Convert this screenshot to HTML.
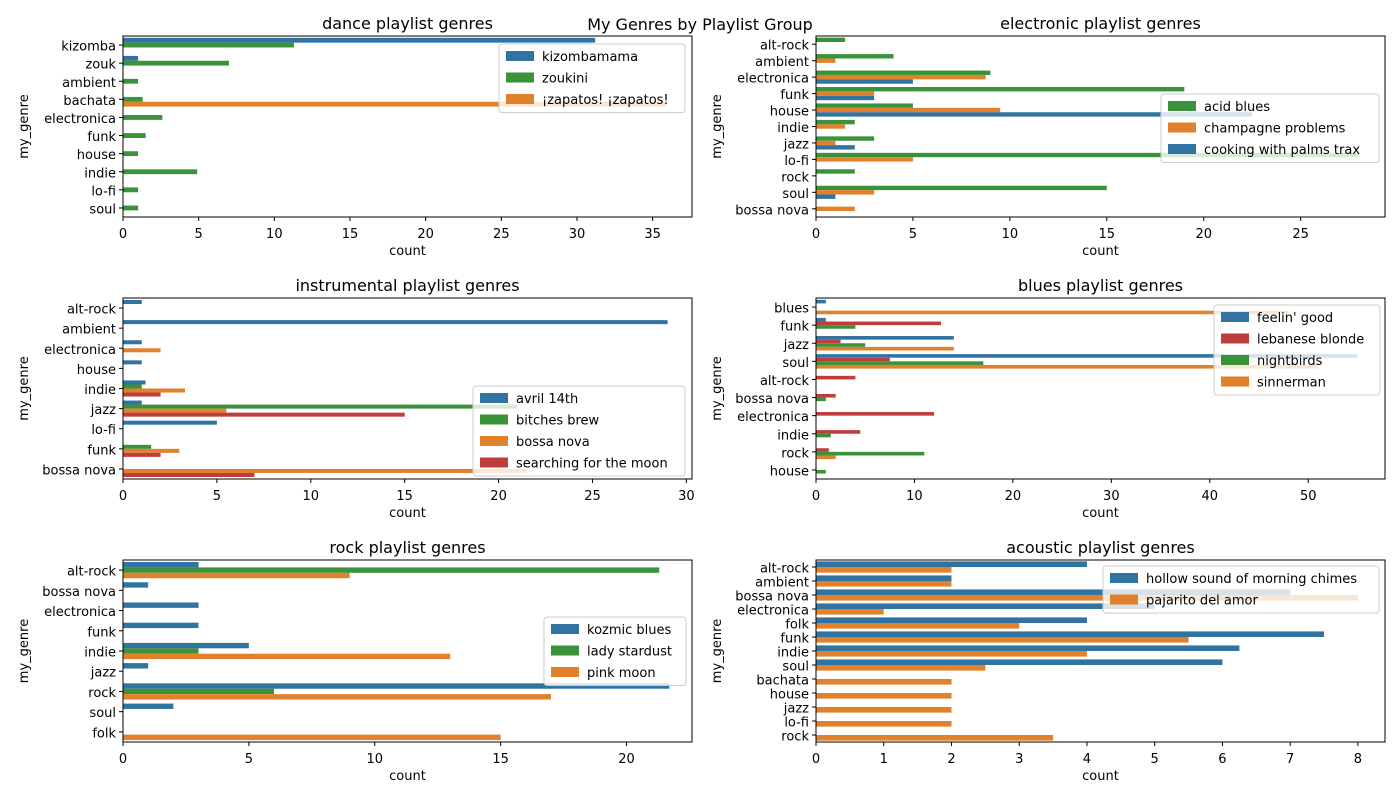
<!DOCTYPE html>
<html><head><meta charset="utf-8"><style>
body{margin:0;background:#fff}
svg{display:block;font-family:"DejaVu Sans","Liberation Sans",sans-serif}
</style></head><body>
<svg id="c" width="1400" height="800" viewBox="0 0 1400 800">
<text x="700" y="30" text-anchor="middle" font-size="16">My Genres by Playlist Group</text>
</svg>
<script>
const C={blue:'#3274a1',orange:'#e1812c',green:'#3a923a',red:'#c03d3e'};
// dance
const danceCats=['kizomba','zouk','ambient','bachata','electronica','funk','house','indie','lo-fi','soul'];
const danceHues=['kizombamama','zoukini','¡zapatos! ¡zapatos!'];
const danceKizombamama=[31.2,1,0,0,0,0,0,0,0,0];
const danceZoukini=[11.3,7,1,1.3,2.6,1.5,1,4.9,1,1];
const danceZapatos=[0,0,0,35.9,0,0,0,0,0,0];
const danceTicks=[0,5,10,15,20,25,30,35];
// electronic
const elecCats=['alt-rock','ambient','electronica','funk','house','indie','jazz','lo-fi','rock','soul','bossa nova'];
const elecHues=['acid blues','champagne problems','cooking with palms trax'];
const elecAcid=[1.5,4,9,19,5,2,3,28,2,15,0];
const elecChamp=[0,1,8.75,3,9.5,1.5,1,5,0,3,2];
const elecCooking=[0,0,5,3,22.5,0,2,0,0,1,0];
const elecTicks=[0,5,10,15,20,25];
// instrumental
const instCats=['alt-rock','ambient','electronica','house','indie','jazz','lo-fi','funk','bossa nova'];
const instHues=['avril 14th','bitches brew','bossa nova','searching for the moon'];
const instAvril=[1,29,1,1,1.2,1,5,0,0];
const instBitches=[0,0,0,0,1,21,0,1.5,0];
const instBossa=[0,0,2,0,3.3,5.5,0,3,21.5];
const instSearching=[0,0,0,0,2,15,0,2,7];
const instTicks=[0,5,10,15,20,25,30];
// blues
const bluesCats=['blues','funk','jazz','soul','alt-rock','bossa nova','electronica','indie','rock','house'];
const bluesHues=["feelin' good",'lebanese blonde','nightbirds','sinnerman'];
const bluesFeelin=[1,1,14,55,0,0,0,0,0,0];
const bluesLebanese=[0,12.7,2.5,7.5,4,2,12,4.5,1.3,0];
const bluesNightbirds=[0,4,5,17,0,1,0,1.5,11,1];
const bluesSinnerman=[48,0,14,51,0,0,0,0,2,0];
const bluesTicks=[0,10,20,30,40,50];
// rock
const rockCats=['alt-rock','bossa nova','electronica','funk','indie','jazz','rock','soul','folk'];
const rockHues=['kozmic blues','lady stardust','pink moon'];
const rockKozmic=[3,1,3,3,5,1,21.7,2,0];
const rockLady=[21.3,0,0,0,3,0,6,0,0];
const rockPink=[9,0,0,0,13,0,17,0,15];
const rockTicks=[0,5,10,15,20];
// acoustic
const acCats=['alt-rock','ambient','bossa nova','electronica','folk','funk','indie','soul','bachata','house','jazz','lo-fi','rock'];
const acHues=['hollow sound of morning chimes','pajarito del amor'];
const acHollow=[4,2,7,5,4,7.5,6.25,6,0,0,0,0,0];
const acPajarito=[2,2,8,1,3,5.5,4,2.5,2,2,2,2,3.5];
const acTicks=[0,1,2,3,4,5,6,7,8];

const svg=document.getElementById('c');
const NS='http://www.w3.org/2000/svg';
function mk(tag,attrs,parent){const e=document.createElementNS(NS,tag);for(const k in attrs)e.setAttribute(k,attrs[k]);(parent||svg).appendChild(e);return e;}

function panel(o){
  const {key,title,L,R,T,B,xmax,cats,hues,series,colors,ticks,leg}=o;
  const g=mk('g',{});
  
  
  const xs=v=>L+(R-L)*v/xmax;
  const band=(B-T)/cats.length;
  const bh=band*0.8/hues.length;
  series.forEach((vals,h)=>{
    vals.forEach((v,i)=>{
      if(!v)return;
      const y=T+band*i+band*0.1+bh*h;
      const r=mk('rect',{x:xs(0),y:y,width:xs(v)-xs(0),height:bh,fill:colors[h]},g);
      
      
    });
  });
  const ax=mk('rect',{x:L,y:T,width:R-L,height:B-T,fill:'none',stroke:'#000','stroke-width':1},g);
  
  
  ticks.forEach(t=>{
    const x=xs(t);
    mk('line',{x1:x,x2:x,y1:B,y2:B+4,stroke:'#000'},g);
    const tx=mk('text',{x:x,y:B+21,'text-anchor':'middle','font-size':13},g);
    tx.textContent=t;
    
    
  });
  cats.forEach((c,i)=>{
    const y=T+band*(i+0.5);
    mk('line',{x1:L-4,x2:L,y1:y,y2:y,stroke:'#000'},g);
    const tx=mk('text',{x:L-7,y:y+5.5,'text-anchor':'end','font-size':13},g);
    tx.textContent=c;
    
    
  });
  const xl=mk('text',{x:(L+R)/2,y:B+38,'text-anchor':'middle','font-size':13},g);
  xl.textContent='count';
  
  
  const yx=L-95,yy=(T+B)/2;
  const yl=mk('text',{x:yx,y:yy,'text-anchor':'middle','font-size':13,transform:`rotate(-90 ${yx} ${yy})`},g);
  yl.textContent='my_genre';
  
  
  const tt=mk('text',{x:(L+R)/2,y:T-7,'text-anchor':'middle','font-size':16},g);
  tt.textContent=title;
  
  
  const lg=mk('g',{},g);
  
  
  mk('rect',{x:leg.x,y:leg.y,width:leg.w,height:hues.length*21.5+4,rx:3,fill:'#fff','fill-opacity':0.8,stroke:'#ccc'},lg);
  hues.forEach((h,i)=>{
    const cy=leg.y+12+i*21.5;
    const sw=mk('rect',{x:leg.x+7,y:cy-5,width:28,height:10,fill:colors[i]},lg);
    
    
    const t=mk('text',{x:leg.x+43,y:cy+5,'font-size':13},lg);
    t.textContent=h;
    
    
  });
}
panel({key:'dance',title:'dance playlist genres',L:123,R:692,T:36,B:217,xmax:37.6,cats:danceCats,hues:danceHues,
  series:[danceKizombamama,danceZoukini,danceZapatos],colors:[C.blue,C.green,C.orange],ticks:danceTicks,leg:{x:499,y:44,w:186}});
panel({key:'electronic',title:'electronic playlist genres',L:816,R:1385,T:36,B:217,xmax:29.35,cats:elecCats,hues:elecHues,
  series:[elecAcid,elecChamp,elecCooking],colors:[C.green,C.orange,C.blue],ticks:elecTicks,leg:{x:1161,y:94,w:218}});
panel({key:'instrumental',title:'instrumental playlist genres',L:123,R:692,T:298,B:479,xmax:30.3,cats:instCats,hues:instHues,
  series:[instAvril,instBitches,instBossa,instSearching],colors:[C.blue,C.green,C.orange,C.red],ticks:instTicks,leg:{x:473,y:386,w:212}});
panel({key:'blues',title:'blues playlist genres',L:816,R:1385,T:298,B:479,xmax:57.8,cats:bluesCats,hues:bluesHues,
  series:[bluesFeelin,bluesLebanese,bluesNightbirds,bluesSinnerman],colors:[C.blue,C.red,C.green,C.orange],ticks:bluesTicks,leg:{x:1214,y:305,w:166}});
panel({key:'rock',title:'rock playlist genres',L:123,R:692,T:560,B:742,xmax:22.6,cats:rockCats,hues:rockHues,
  series:[rockKozmic,rockLady,rockPink],colors:[C.blue,C.green,C.orange],ticks:rockTicks,leg:{x:544,y:617,w:142}});
panel({key:'acoustic',title:'acoustic playlist genres',L:816,R:1385,T:560,B:742,xmax:8.4,cats:acCats,hues:acHues,
  series:[acHollow,acPajarito],colors:[C.blue,C.orange],ticks:acTicks,leg:{x:1103,y:566,w:276}});
</script>
</body></html>
